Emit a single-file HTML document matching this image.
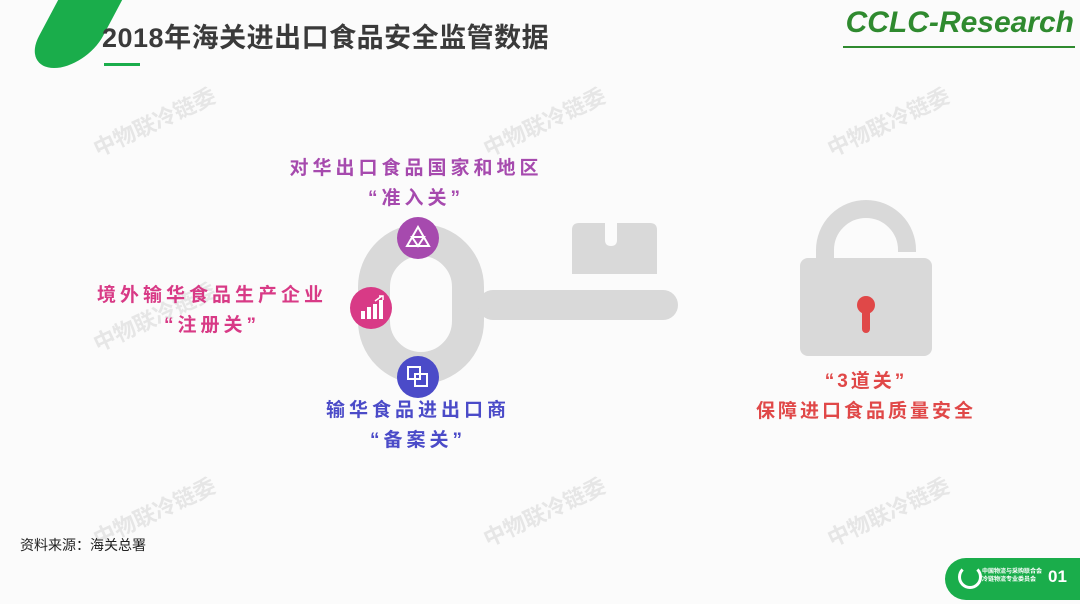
<!DOCTYPE html>
<html><head><meta charset="utf-8"><style>
body{margin:0;width:1080px;height:604px;background:#fbfbfb;position:relative;overflow:hidden;font-family:"Liberation Sans","Noto Sans CJK SC",sans-serif}
.t{position:absolute;font-weight:bold;text-align:center;white-space:nowrap;letter-spacing:4px}
.wm{position:absolute;color:#e6e6e6;font-size:22px;font-weight:bold;transform:rotate(-25deg);white-space:nowrap}
</style></head><body>
<div style="position:absolute;left:22px;top:-50px;width:64px;height:118px;background:#1aad4b;border-radius:32px;transform:skewX(-28deg);transform-origin:bottom left"></div>
<div class="t" style="left:102px;top:16px;font-size:27px;color:#3a3a3a;letter-spacing:0.5px">2018年海关进出口食品安全监管数据</div>
<div style="position:absolute;left:104px;top:63px;width:36px;height:3px;background:#1aad4b"></div>
<div style="position:absolute;right:6px;top:6px;font-size:30px;font-style:italic;font-weight:bold;color:#2f8a2f">CCLC-Research</div>
<div style="position:absolute;left:843px;top:46px;width:232px;height:2px;background:#2f8a2f"></div>
<div class="wm" style="left:88px;top:105px">中物联冷链委</div>
<div class="wm" style="left:478px;top:105px">中物联冷链委</div>
<div class="wm" style="left:822px;top:105px">中物联冷链委</div>
<div class="wm" style="left:88px;top:300px">中物联冷链委</div>
<div class="wm" style="left:88px;top:495px">中物联冷链委</div>
<div class="wm" style="left:478px;top:495px">中物联冷链委</div>
<div class="wm" style="left:822px;top:495px">中物联冷链委</div>
<svg style="position:absolute;left:0;top:0" width="1080" height="604">
<rect x="374" y="240" width="94" height="128" rx="47" fill="none" stroke="#d9d9d9" stroke-width="32"/>
<rect x="478" y="290" width="200" height="30" rx="15" fill="#d9d9d9"/>
<path d="M572 274 V230 q0-7 7-7 H605 V240 q0 6 6 6 q6 0 6-6 V223 H650 q7 0 7 7 V274 Z" fill="#d9d9d9"/>
<path d="M825 262 V250 a41 41 0 0 1 82 0 V252" fill="none" stroke="#d9d9d9" stroke-width="18"/>
<rect x="800" y="258" width="132" height="98" rx="8" fill="#d9d9d9"/>
<circle cx="866" cy="305" r="9" fill="#e04848"/><rect x="862" y="305" width="8" height="28" rx="4" fill="#e04848"/>
<circle cx="418" cy="238" r="21" fill="#a64aae"/>
<path d="M418 227 L429 246 H407Z M412 237 H424 L418 246Z" fill="none" stroke="#fff" stroke-width="2"/>
<circle cx="371" cy="308" r="21" fill="#d83a86"/>
<rect x="361" y="311" width="4" height="8" fill="#fff"/><rect x="367" y="307" width="4" height="12" fill="#fff"/><rect x="373" y="304" width="4" height="15" fill="#fff"/><rect x="379" y="300" width="4" height="19" fill="#fff"/>
<path d="M375 301 L382 296 M379 296 H383 V300" stroke="#fff" stroke-width="1.5" fill="none"/>
<circle cx="418" cy="377" r="21" fill="#4b4bc8"/>
<rect x="408" y="367" width="12" height="12" fill="none" stroke="#fff" stroke-width="2"/><rect x="415" y="374" width="12" height="12" fill="none" stroke="#fff" stroke-width="2"/>
</svg>
<div class="t" style="left:266px;top:154px;width:300px;font-size:19px;color:#a64aae;line-height:30px">对华出口食品国家和地区<br>“准入关”</div>
<div class="t" style="left:70px;top:281px;width:284px;font-size:19px;color:#d83a86;line-height:30px">境外输华食品生产企业<br>“注册关”</div>
<div class="t" style="left:296px;top:396px;width:244px;font-size:19px;color:#4b4bc8;line-height:30px">输华食品进出口商<br>“备案关”</div>
<div class="t" style="left:738px;top:367px;width:256px;font-size:19px;color:#e04848;line-height:30px;letter-spacing:3px">“3道关”<br>保障进口食品质量安全</div>
<div style="position:absolute;left:20px;top:535px;font-size:14px;color:#222">资料来源：海关总署</div>
<div style="position:absolute;left:945px;top:558px;width:150px;height:42px;background:#1aad4b;border-radius:21px 0 0 21px"></div>
<div style="position:absolute;left:958px;top:565px;width:18px;height:18px;border-radius:50%;border:3px solid #fff;border-top-color:transparent"></div>
<div style="position:absolute;left:982px;top:568px;font-size:6px;color:#fff;line-height:8px;font-weight:bold">中国物流与采购联合会<br>冷链物流专业委员会</div>
<div style="position:absolute;left:1048px;top:567px;font-size:17px;color:#fff;font-weight:bold">01</div>
</body></html>
